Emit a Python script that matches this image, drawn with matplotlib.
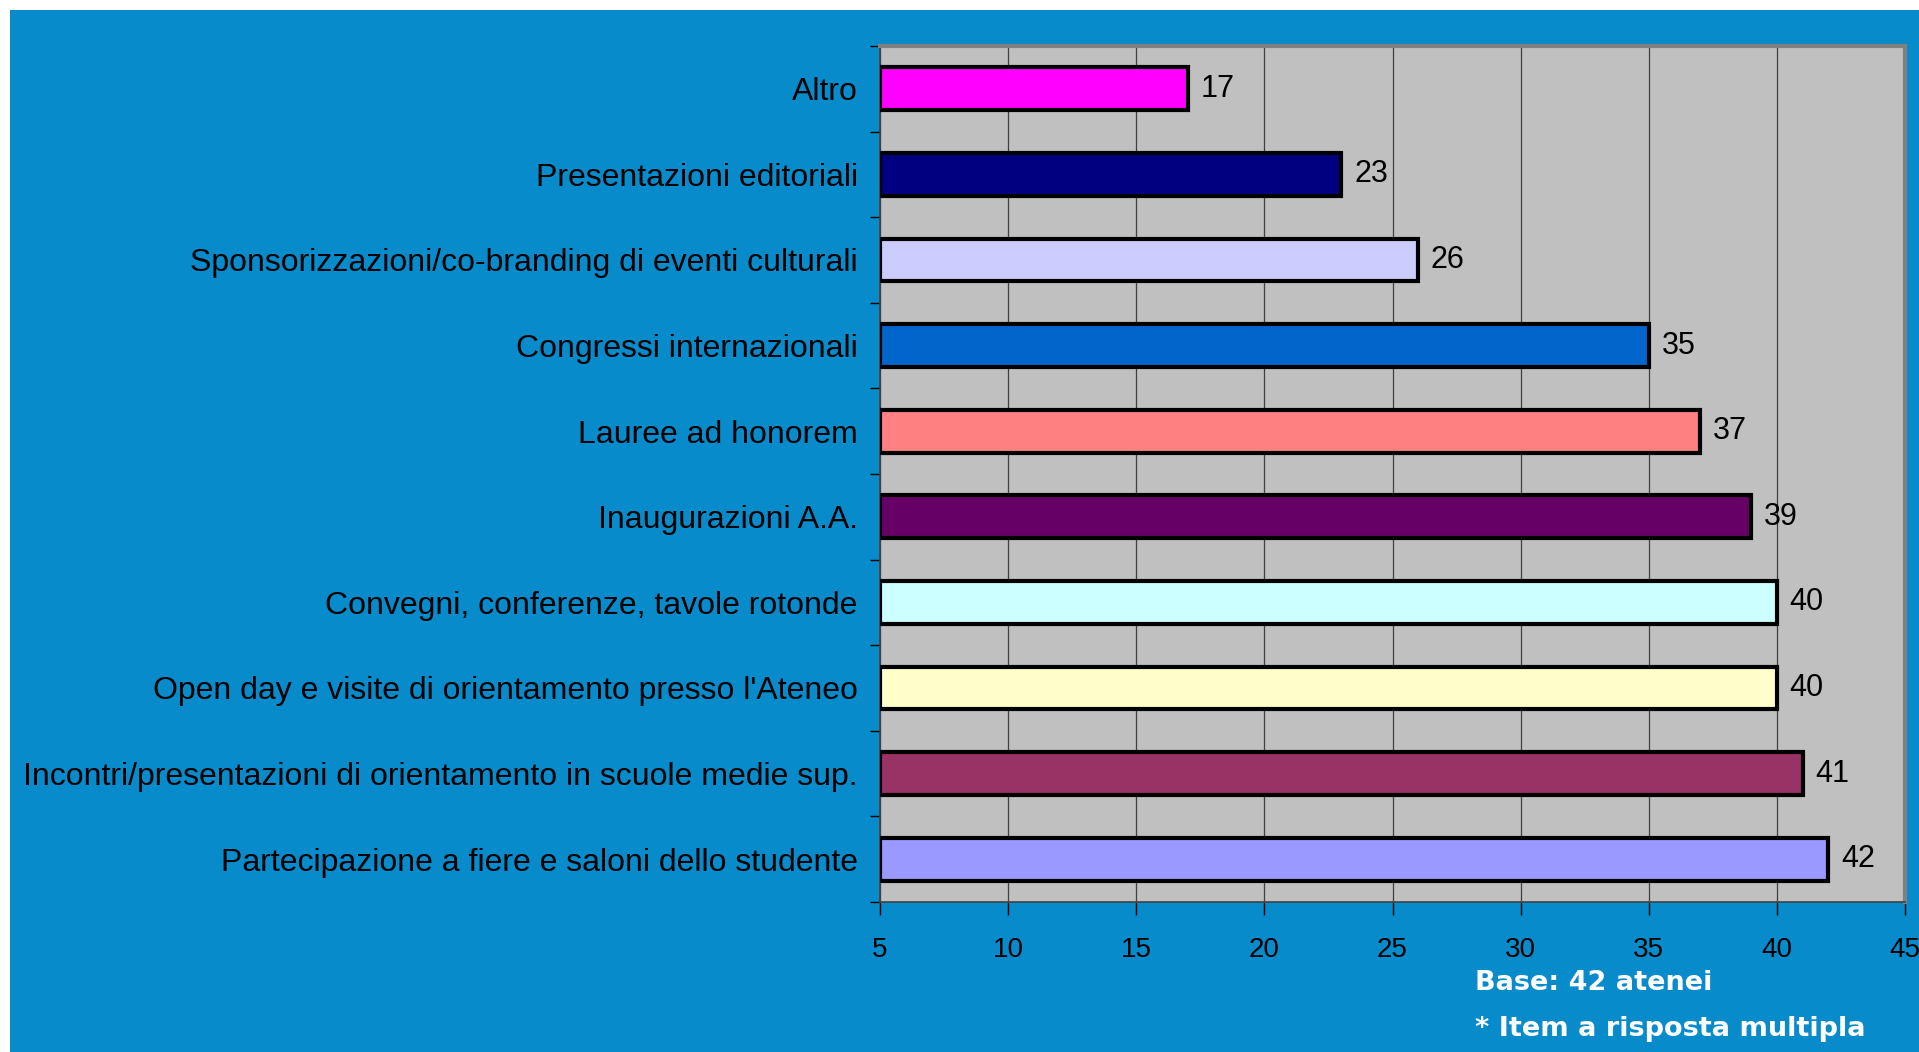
import matplotlib.pyplot as plt
from matplotlib.patches import Rectangle

# activities, listed bottom to top as drawn
categories = [
    "Partecipazione a fiere e saloni dello studente",
    "Incontri/presentazioni di orientamento in scuole medie sup.",
    "Open day e visite di orientamento presso l'Ateneo",
    "Convegni, conferenze, tavole rotonde",
    "Inaugurazioni A.A.",
    "Lauree ad honorem",
    "Congressi internazionali",
    "Sponsorizzazioni/co-branding di eventi culturali",
    "Presentazioni editoriali",
    "Altro",
]
values = [42, 41, 40, 40, 39, 37, 35, 26, 23, 17]
bar_colors = ["#9999FF", "#993366", "#FFFFCC", "#CCFFFF", "#660066",
              "#FF8080", "#0066CC", "#CCCCFF", "#000080", "#FF00FF"]
x_ticks = [5, 10, 15, 20, 25, 30, 35, 40, 45]

plt.rcParams['font.family'] = ['Liberation Sans', 'DejaVu Sans']

fig = plt.figure(figsize=(19.19, 10.52), dpi=100, facecolor='white')
# blue slide background, leaving a thin white margin top and left
fig.patches.append(Rectangle((10 / 1919, 0), 1, 1 - 10 / 1052,
                             transform=fig.transFigure, facecolor='#078BCB',
                             edgecolor='none', zorder=-1))

ax = fig.add_axes([880 / 1919, 1 - 902 / 1052, 1025 / 1919, 856 / 1052])
ax.set_facecolor('#C0C0C0')

pos = list(range(len(categories)))
ax.barh(pos, [v - 5 for v in values], left=5, height=0.5, color=bar_colors,
        edgecolor='black', linewidth=3, zorder=3)
for p, v in zip(pos, values):
    ax.text(v + 0.5, p, str(v), va='center', ha='left', fontsize=22, zorder=4)

ax.set_xlim(5, 45)
ax.set_ylim(-0.5, len(categories) - 0.5)
ax.set_xticks(x_ticks)
ax.set_xticklabels([str(t) for t in x_ticks], fontsize=20)
ax.tick_params(axis='x', length=9, width=1, pad=16, color='black')
ax.set_yticks(pos)
ax.set_yticklabels(categories, fontsize=23)
ax.tick_params(axis='y', length=0, pad=16)
ax.set_yticks([p - 0.5 for p in pos] + [len(categories) - 0.5], minor=True)
ax.tick_params(axis='y', which='minor', length=7, width=1, color='black')

ax.grid(axis='x', color='#404040', linewidth=0.9, zorder=1)
ax.set_axisbelow(True)
for side in ['top', 'right']:
    ax.spines[side].set_color('#808080')
    ax.spines[side].set_linewidth(3)
for side in ['left', 'bottom']:
    ax.spines[side].set_color('#404040')
    ax.spines[side].set_linewidth(1.2)

fig.text(1475 / 1919, 1 - 983 / 1052, "Base: 42 atenei", color='white',
         fontsize=19.5, fontweight='bold', family='DejaVu Sans',
         va='center', ha='left')
fig.text(1475 / 1919, 1 - 1029 / 1052, "* Item a risposta multipla",
         color='white', fontsize=19.5, fontweight='bold', family='DejaVu Sans',
         va='center', ha='left')

fig.savefig('out.png', dpi=100, facecolor=fig.get_facecolor())
